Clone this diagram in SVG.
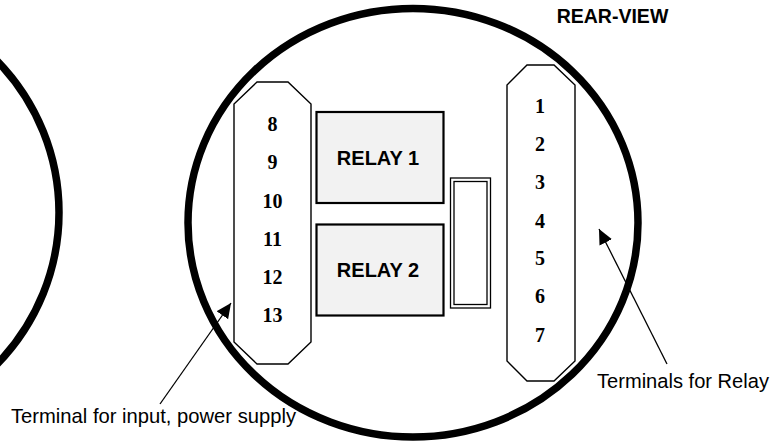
<svg xmlns="http://www.w3.org/2000/svg" width="779" height="443" viewBox="0 0 779 443">
<style>
.ring{fill:none;stroke:#000;stroke-width:7.500}
.term{fill:#fff;stroke:#000;stroke-width:1.400}
.relay{fill:#f2f2f2;stroke:#000;stroke-width:2.200}
.n{font:bold 20px "Liberation Serif",serif;text-anchor:middle;fill:#000}
.r{font:bold 20px "Liberation Sans",sans-serif;text-anchor:middle;fill:#000}
.l{font:20.100px "Liberation Sans",sans-serif;fill:#000}
.lead{stroke:#000;stroke-width:1.300;fill:none;marker-end:url(#a)}
</style>
<defs><marker id="a" markerUnits="userSpaceOnUse" markerWidth="18" markerHeight="16" refX="15" refY="7" orient="auto"><path d="M0 0L15 7L0 14z" fill="#000"/></marker></defs>
<rect width="779" height="443" fill="#fff"/>
<g id="housing-left"><ellipse class="ring" cx="-166" cy="212.500" rx="225" ry="220"/></g>
<g id="housing-rear"><ellipse class="ring" cx="413" cy="222.700" rx="225" ry="214.300"/></g>
<text class="r" x="612.500" y="22.700" style="font-size:19.500px">REAR-VIEW</text>
<g id="terminal-input">
<polygon class="term" points="257,82 288,82 311,104 311,342 288,364 257,364 234,342 234,104"/>
<text class="n" x="272.500" y="131">8</text><text class="n" x="272.500" y="169">9</text><text class="n" x="272.500" y="208">10</text><text class="n" x="272.500" y="246">11</text><text class="n" x="272.500" y="284">12</text><text class="n" x="272.500" y="322">13</text>
</g>
<g id="relay-1"><rect class="relay" x="316.500" y="112" width="127" height="91"/><text class="r" x="378" y="165">RELAY 1</text></g>
<g id="relay-2"><rect class="relay" x="316.500" y="224.500" width="127" height="91"/><text class="r" x="378" y="277">RELAY 2</text></g>
<g id="connector-block"><rect x="450.500" y="178" width="40" height="130" fill="#fff" stroke="#000" stroke-width="1.300"/><rect x="454" y="181.500" width="33" height="123" fill="#fff" stroke="#000" stroke-width="1.300"/></g>
<g id="terminal-relay">
<polygon class="term" points="527,65 554,65 575,85 575,361 554,381 527,381 507,361 507,85"/>
<text class="n" x="540" y="113">1</text><text class="n" x="540" y="151">2</text><text class="n" x="540" y="189">3</text><text class="n" x="540" y="228">4</text><text class="n" x="540" y="265">5</text><text class="n" x="540" y="303">6</text><text class="n" x="540" y="342">7</text>
</g>
<g id="connectors">
<line class="lead" x1="160" y1="404" x2="231" y2="303"/>
<line class="lead" x1="667" y1="364" x2="599" y2="229"/>
</g>
<text class="l" x="11" y="423" style="font-size:20.200px">Terminal for input, power supply</text>
<text class="l" x="597" y="388">Terminals for Relay</text>
</svg>
